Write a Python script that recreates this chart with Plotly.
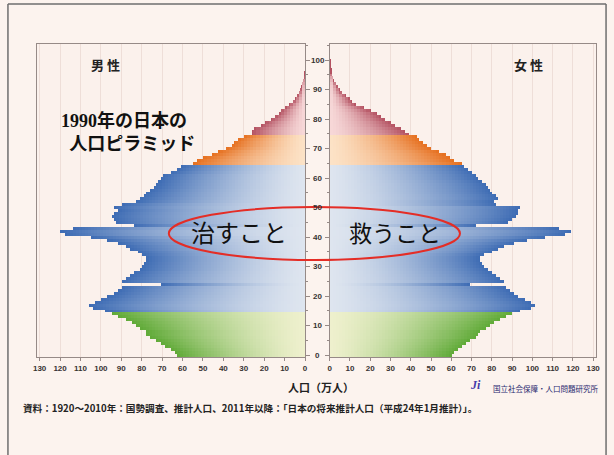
import plotly.graph_objects as go

# ---------------- data (population, 10k persons) ----------------
ages = list(range(101))
male = [63, 64, 66, 69, 71, 73, 76, 78, 78, 81,
        83, 85, 88, 92, 95, 98, 104, 106, 103, 100,
        97, 94, 92, 90, 71, 90, 88, 86, 84, 81,
        80, 79, 78, 78, 80, 82, 86, 88, 92, 97,
        105, 118, 120, 114, 84, 93, 94, 95, 94, 92,
        94, 90, 83, 81, 79, 78, 76, 74, 73, 72,
        71, 70, 66, 63, 61, 55, 53, 50, 46, 43,
        39, 36, 35, 33, 30, 26, 26, 25, 22, 20,
        17, 15, 13, 12, 10, 8, 6, 5, 4, 3,
        2.5, 2, 1.5, 1.2, 0.8, 0.5, 0.3, 0.2, 0.1, 0.1, 0.1]
female = [60, 61, 63, 65, 67, 69, 72, 73, 74, 77,
          79, 81, 84, 87, 90, 94, 99, 101, 99, 96,
          93, 91, 89, 87, 69, 86, 84, 82, 80, 78,
          76, 75, 74, 74, 76, 80, 83, 86, 91, 97,
          106, 116, 119, 113, 72, 88, 90, 92, 93, 93,
          94, 82, 81, 83, 82, 80, 79, 78, 77, 75,
          73, 72, 70, 68, 66, 65, 61, 59, 57, 54,
          50, 48, 46, 44, 43, 39, 37, 35, 32, 30,
          27, 25, 23, 20, 17, 13, 11, 10, 8, 6,
          5, 4, 3, 2, 1.5, 1, 0.7, 0.5, 0.3, 0.2, 0.1]
x_ticks = list(range(0, 131, 10))
y_ticks = list(range(0, 101, 10))

title_lines = ["1990年の日本の", "人口ピラミッド"]
male_label = "男 性"
female_label = "女 性"
left_word = "治すこと"
right_word = "救うこと"
x_title = "人口（万人）"
org_name = "国立社会保障・人口問題研究所"
source_note = "資料：1920～2010年：国勢調査、推計人口、2011年以降：「日本の将来推計人口（平成24年1月推計）」。"

# ---------------- styling ----------------
W, H = 614, 455
def px(x): return x / W
def py(y): return 1 - y / H

# (inner colour near axis, outer colour at bar tip)
group_colors = [
    ((238, 240, 205), (96, 170, 56)),    # 0-14 green
    ((222, 229, 239), (62, 108, 180)),   # 15-64 blue
    ((252, 226, 198), (230, 112, 32)),   # 65-74 orange
    ((247, 216, 216), (180, 82, 98)),    # 75+ red
]
def group(a):
    if a < 15: return 0
    if a < 65: return 1
    if a < 75: return 2
    return 3

def lerp(c0, c1, t):
    return "rgb(%d,%d,%d)" % tuple(round(a + (b - a) * t) for a, b in zip(c0, c1))

SEG = 1.5
NSEG = int(132 / SEG) + 1

fig = go.Figure()
for vals, xa, ya in [(male, "x", "y"), (female, "x2", "y2")]:
    vmax = max(vals)
    for k in range(NSEG - 1, -1, -1):
        hi = (k + 1) * SEG
        lo = k * SEG
        if lo > vmax:
            continue
        widths = [min(v, hi) for v in vals]
        cols = []
        for a, v in zip(ages, vals):
            t = min(1.0, (lo + SEG / 2) / v) ** 1.4
            c0, c1 = group_colors[group(a)]
            cols.append(lerp(c0, c1, t))
        fig.add_trace(go.Bar(
            y=ages, x=widths, orientation="h", xaxis=xa, yaxis=ya,
            marker=dict(color=cols, line=dict(width=0)),
            width=1.0, showlegend=False, hoverinfo="skip"))

axis_line = "rgb(150,138,135)"
grid_col = "rgb(238,222,216)"
tick_font = dict(family="Liberation Sans", size=8, color="rgb(55,50,50)", weight="bold")
yr = [-0.6, 105.5]
ydom = [py(357), py(44)]

fig.update_layout(
    width=W, height=H, autosize=False,
    margin=dict(l=0, r=0, t=0, b=0),
    paper_bgcolor="rgb(252,243,238)",
    plot_bgcolor="rgb(251,241,236)",
    barmode="overlay", bargap=0,
    xaxis=dict(domain=[px(33), px(305)], range=[131.5, 0], tickvals=x_ticks,
               showgrid=True, gridcolor=grid_col, gridwidth=1, zeroline=False,
               showline=True, linecolor=axis_line, linewidth=1, mirror=True,
               ticks="outside", ticklen=3, tickcolor=axis_line, tickfont=tick_font),
    xaxis2=dict(domain=[px(330), px(600)], range=[0, 131.5], tickvals=x_ticks,
                showgrid=True, gridcolor=grid_col, gridwidth=1, zeroline=False,
                showline=True, linecolor=axis_line, linewidth=1, mirror=True,
                ticks="outside", ticklen=3, tickcolor=axis_line, tickfont=tick_font,
                anchor="y2"),
    yaxis=dict(domain=ydom, range=yr, side="right", tickvals=y_ticks,
               showticklabels=False, showgrid=False, zeroline=False,
               showline=True, linecolor=axis_line, linewidth=1, mirror=True,
               ticks="outside", ticklen=4, tickcolor=axis_line,
               minor=dict(dtick=5, ticks="outside", ticklen=2, tickcolor=axis_line)),
    yaxis2=dict(domain=ydom, range=yr, side="left", tickvals=y_ticks, anchor="x2",
                showticklabels=False, showgrid=False, zeroline=False,
                showline=True, linecolor=axis_line, linewidth=1, mirror=True,
                ticks="outside", ticklen=4, tickcolor=axis_line,
                minor=dict(dtick=5, ticks="outside", ticklen=2, tickcolor=axis_line)),
)

ann = []
# centre age labels
for v in y_ticks:
    ann.append(dict(x=px(318), xref="paper", y=v, yref="y", text=str(v),
                    showarrow=False, xanchor="center", yanchor="middle",
                    font=dict(family="Liberation Sans", size=8, color="rgb(55,50,50)", weight="bold")))
jp = "Noto Sans CJK JP"
title_text = ("<b><span style='font-family:Liberation Serif'>%s</span>%s</b><br><b>&nbsp;&nbsp;%s</b>"
              % (title_lines[0][:4], title_lines[0][4:], title_lines[1]))
ann += [
    dict(x=px(86), y=py(65), text="<b>%s</b>" % male_label, font=dict(family=jp, size=13, color="#222")),
    dict(x=px(548), y=py(65), text="<b>%s</b>" % female_label, font=dict(family=jp, size=13, color="#222")),
    dict(x=px(56), y=py(130), xanchor="left", align="left", text=title_text,
         font=dict(family=jp, size=18, color="#111")),
    dict(x=px(238), y=py(232), text=left_word, font=dict(family=jp, size=24, color="#111")),
    dict(x=px(396), y=py(232), text=right_word, font=dict(family=jp, size=23, color="#111")),
    dict(x=px(321), y=py(387), text="<b>%s</b>" % x_title, font=dict(family=jp, size=11, color="#222")),
    dict(x=px(485), y=py(385), text="<b><i>Ji</i></b>", font=dict(family="Liberation Serif", size=12, color="rgb(70,60,170)")),
    dict(x=px(493), y=py(388), xanchor="left", text=org_name, font=dict(family=jp, size=7.5, color="rgb(40,40,110)")),
    dict(x=px(17), y=py(408), xanchor="left", text="<b>%s</b>" % source_note, font=dict(family=jp, size=9.6, color="#222")),
]
for a in ann:
    a.setdefault("xref", "paper")
    a.setdefault("yref", "paper")
    a.setdefault("yanchor", "middle")
    a.setdefault("showarrow", False)
fig.update_layout(annotations=ann)

frame = "rgb(110,110,110)"
fig.update_layout(shapes=[
    dict(type="circle", xref="paper", yref="paper", x0=px(167), x1=px(462), y0=py(260), y1=py(207),
         line=dict(color="rgb(228,45,38)", width=2), fillcolor="rgba(0,0,0,0)", layer="above"),
    dict(type="line", xref="paper", yref="paper", x0=px(4), x1=px(4), y0=py(4), y1=py(455),
         line=dict(color=frame, width=1.5)),
    dict(type="line", xref="paper", yref="paper", x0=px(4), x1=px(610), y0=py(4), y1=py(4),
         line=dict(color=frame, width=1.5)),
    dict(type="line", xref="paper", yref="paper", x0=px(610), x1=px(610), y0=py(4), y1=py(455),
         line=dict(color=frame, width=1.5)),
])

fig.write_html("out.html")
